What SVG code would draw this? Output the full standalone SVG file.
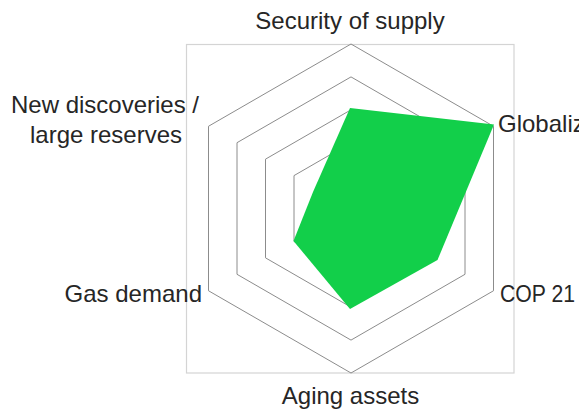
<svg xmlns="http://www.w3.org/2000/svg" width="579" height="413" viewBox="0 0 579 413">
<style>
.ring{fill:none;stroke:#8c8c8c;stroke-width:1}
.lbl{font-family:"Liberation Sans",Arial,sans-serif;font-size:24px;fill:#262626}
</style>
<rect x="0" y="0" width="579" height="413" fill="#ffffff"/>
<rect id="frame" x="186.5" y="44.5" width="327.5" height="328.5" fill="#ffffff" stroke="#d4d4d4" stroke-width="1.2"/>
<g id="grid">
<polygon class="ring" points="351,44 493.5,126.25 493.5,290.75 351,373 208.5,290.75 208.5,126.25"/>
<polygon class="ring" points="351,76.9 465,142.7 465,274.3 351,340.1 237,274.3 237,142.7"/>
<polygon class="ring" points="351,109.8 436.5,159.15 436.5,257.85 351,307.2 265.5,257.85 265.5,159.15"/>
<polygon class="ring" points="351,142.7 408,175.6 408,241.4 351,274.3 294,241.4 294,175.6"/>
</g>
<g id="series">
<polygon points="350,108 494,124.5 437.5,260 350,309 293.5,241 313,192" fill="#12cf4a"/>
</g>
<g id="labels">
<text id="lbl-security" class="lbl" x="350" y="29" text-anchor="middle">Security of supply</text>
<text id="lbl-global" class="lbl" x="498" y="132">Globalization</text>
<text id="lbl-cop" class="lbl" x="500" y="302" textLength="75" lengthAdjust="spacingAndGlyphs">COP 21</text>
<text id="lbl-aging" class="lbl" x="350.5" y="404" text-anchor="middle">Aging assets</text>
<text id="lbl-gas" class="lbl" x="202" y="302" text-anchor="end">Gas demand</text>
<text id="lbl-new" class="lbl" text-anchor="middle"><tspan x="105" y="113">New discoveries /</tspan><tspan x="106" y="143">large reserves</tspan></text>
</g>
</svg>
